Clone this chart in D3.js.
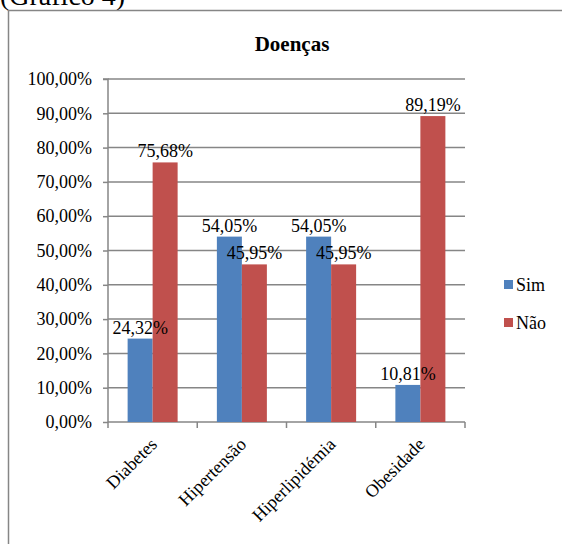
<!DOCTYPE html>
<html><head><meta charset="utf-8">
<script src="https://cdn.jsdelivr.net/npm/d3@7"></script>
<style>
html,body{margin:0;padding:0;background:#fff;}
svg{display:block;font-family:"Liberation Serif","Times New Roman",serif;}
</style></head>
<body>
<svg id="c" width="562" height="544"></svg>
<script>
const categories = ["Diabetes","Hipertensão","Hiperlipidémia","Obesidade"];
const seriesNames = ["Sim","Não"];
const simValues = [24.32, 54.05, 54.05, 10.81];
const naoValues = [75.68, 45.95, 45.95, 89.19];
const yTicks = [0,10,20,30,40,50,60,70,80,90,100];
const colors = ["#4F81BD","#C0504D"];

const svg = d3.select("#c");
const grid = "#868686";
const fmt = v => v.toFixed(2).replace(".", ",") + "%";

// caption partially cut (as in reference)
svg.append("text").attr("x", 0).attr("y", 5).attr("font-size", 28).attr("fill","#000").text("(Gráfico 4)");

// frame
svg.append("path").attr("d","M8.5,560 L8.5,10.5 L580,10.5").attr("fill","none").attr("stroke",grid).attr("stroke-width",1.5);

const L = 108, R = 465, T = 79, B = 422;
const x = d3.scaleBand().domain(categories).range([L, R]).paddingInner(0).paddingOuter(0);
const y = d3.scaleLinear().domain([0,100]).range([B, T]);

// title
svg.append("text").attr("x", 292).attr("y", 51).attr("text-anchor","middle").attr("font-size", 21).attr("font-weight","bold").text("Doenças");

// gridlines
svg.append("g").selectAll("line").data(yTicks.filter(d=>d>0)).join("line")
  .attr("x1", L).attr("x2", R).attr("y1", d=>y(d)).attr("y2", d=>y(d))
  .attr("stroke", grid).attr("stroke-width", 1.5);

// y axis
const yAxis = d3.axisLeft(y).tickValues(yTicks).tickSize(5).tickPadding(11).tickFormat(d => fmt(d));
const gy = svg.append("g").attr("transform", `translate(${L},0)`).call(yAxis);
gy.select(".domain").attr("stroke", grid).attr("stroke-width",1.5).attr("d", `M-5,${T}H0V${B}`);
gy.selectAll(".tick line").attr("stroke", grid).attr("stroke-width",1.5);
gy.selectAll(".tick text").attr("font-size", 18).attr("fill","#000").attr("font-family","Liberation Serif, serif");

// x axis
const gx = svg.append("g").attr("transform", `translate(0,${B})`);
gx.append("line").attr("x1", L).attr("x2", R).attr("y1",0).attr("y2",0).attr("stroke",grid).attr("stroke-width",1.5);
const bounds = categories.map(c => x(c)).concat([R]);
gx.selectAll("line.tk").data(bounds).join("line").attr("class","tk")
  .attr("x1", d=>d).attr("x2", d=>d).attr("y1",0).attr("y2",6).attr("stroke",grid).attr("stroke-width",1.5);
gx.selectAll("text").data(categories).join("text")
  .attr("transform", d => `translate(${x(d)+x.bandwidth()/2+1},${19}) rotate(-45)`)
  .attr("text-anchor","end").attr("dy","0.35em").attr("font-size",18).attr("fill","#000").text(d=>d);

// bars
const barW = 25;
const data = categories.map((c,i)=>({c, vals:[simValues[i], naoValues[i]]}));
const g = svg.append("g");
data.forEach(d => {
  d.vals.forEach((v, k) => {
    const cx = x(d.c) + x.bandwidth()/2;
    const x0 = cx - barW + k*barW;
    g.append("rect").attr("x", x0).attr("y", y(v)).attr("width", barW).attr("height", B - y(v)).attr("fill", colors[k]);
  });
});
data.forEach(d => {
  d.vals.forEach((v, k) => {
    const cx = x(d.c) + x.bandwidth()/2;
    const x0 = cx - barW + k*barW;
    g.append("text").attr("x", x0 + barW/2).attr("y", y(v) - 5).attr("text-anchor","middle")
      .attr("font-size",18).attr("fill","#000").text(fmt(v));
  });
});

// legend
const lg = svg.append("g");
seriesNames.forEach((s,k) => {
  const cy = 285 + k*38;
  lg.append("rect").attr("x",504).attr("y",cy-5).attr("width",9).attr("height",9).attr("fill",colors[k]);
  lg.append("text").attr("x",516).attr("y",cy).attr("dy","0.35em").attr("font-size",18).attr("fill","#000").text(s);
});
</script>
</body></html>
